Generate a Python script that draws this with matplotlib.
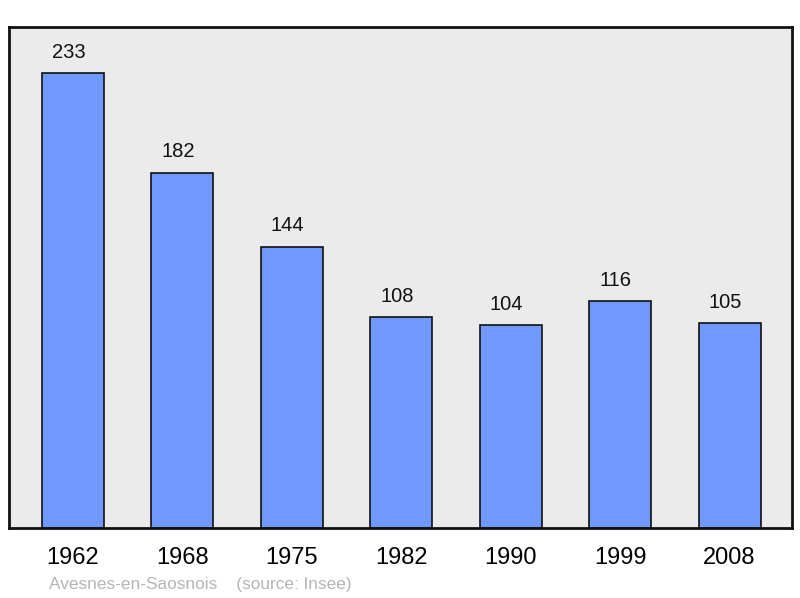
import matplotlib.pyplot as plt
import numpy as np

plt.rcParams['font.family'] = ['Liberation Sans', 'DejaVu Sans']

years = ["1962", "1968", "1975", "1982", "1990", "1999", "2008"]
population = [233, 182, 144, 108, 104, 116, 105]

fig = plt.figure(figsize=(8, 5.98), dpi=100)
ax = fig.add_axes([9/800, 70/598, 783/800, 501/598])
ax.set_facecolor('#ebebeb')

x = np.arange(len(years))
ax.bar(x, population, width=0.567, color='#7099ff', edgecolor='#111111', linewidth=1.2, zorder=2)

for xi, v in zip(x, population):
    ax.annotate(str(v), (xi, v), xytext=(-3, 15), textcoords='offset points',
                ha='center', va='center', fontsize=14.5, color='#111111')

ax.set_xlim(-0.585, 6.571)
ax.set_ylim(0, 256.5)
ax.set_yticks([])
ax.set_xticks(x)
ax.set_xticklabels(years, fontsize=17)
ax.tick_params(axis='x', length=0, pad=14)
for s in ax.spines.values():
    s.set_linewidth(2)
    s.set_color('#111111')

fig.text(49/800, 1 - 584/598, "Avesnes-en-Saosnois    (source: Insee)", fontsize=12.4,
         color='#b5b5b5', ha='left', va='center')

fig.savefig('out.png', dpi=100)
